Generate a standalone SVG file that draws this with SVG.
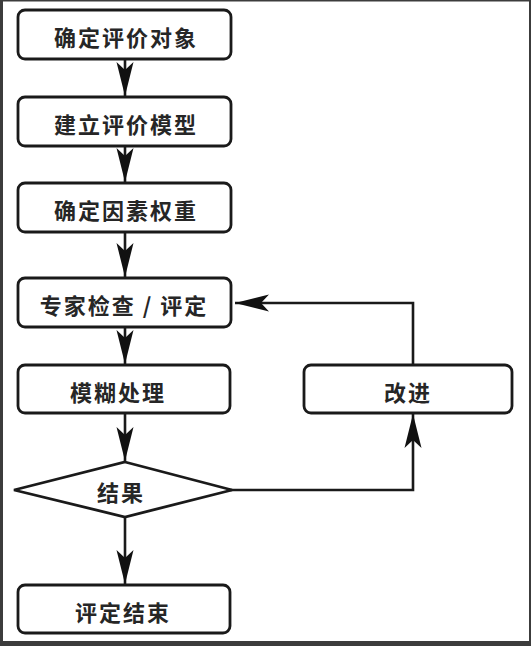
<svg xmlns="http://www.w3.org/2000/svg" width="531" height="646" viewBox="0 0 531 646">
<style>
.box{fill:#fff;stroke:#1a1a1a;stroke-width:2.8}
.lbl{font-family:"Noto Sans CJK SC","Liberation Sans",sans-serif;font-size:22px;font-weight:700;fill:#262626;text-anchor:middle;dominant-baseline:central;letter-spacing:2px}
.ln{fill:none;stroke:#1a1a1a;stroke-width:2.6}
</style>
<defs>
<marker id="ah" markerUnits="userSpaceOnUse" markerWidth="40" markerHeight="24" viewBox="-36 -12 38 24" refX="0" refY="0" orient="auto">
<path d="M0,0 L-34,-8.5 L-26,0 L-34,8.5 Z" fill="#111"/>
</marker>
</defs>
<rect x="0" y="0" width="531" height="646" fill="#fff"/>
<g id="frame" fill="#3c3c3c">
<rect x="0" y="0" width="3" height="646"/>
<rect x="0" y="0" width="531" height="1.5"/>
<rect x="529" y="0" width="2" height="646"/>
<rect x="0" y="641" width="531" height="5"/>
</g>
<g id="connectors">
<line class="ln" x1="125" y1="59" x2="125" y2="96" marker-end="url(#ah)"/>
<line class="ln" x1="125" y1="146" x2="125" y2="182" marker-end="url(#ah)"/>
<line class="ln" x1="125" y1="232" x2="125" y2="277" marker-end="url(#ah)"/>
<line class="ln" x1="125" y1="327" x2="125" y2="364" marker-end="url(#ah)"/>
<line class="ln" x1="125" y1="413" x2="125" y2="461" marker-end="url(#ah)"/>
<line class="ln" x1="125" y1="517" x2="125" y2="584" marker-end="url(#ah)"/>
<polyline class="ln" points="230,490 413,490 413,414" marker-end="url(#ah)"/>
<polyline class="ln" points="413,365 413,303 235,303" marker-end="url(#ah)"/>
</g>
<g id="n1"><rect class="box" x="18" y="10" width="213" height="49" rx="7"/><text class="lbl" x="126" y="36">确定评价对象</text></g>
<g id="n2"><rect class="box" x="18" y="97" width="213" height="49" rx="7"/><text class="lbl" x="126" y="123">建立评价模型</text></g>
<g id="n3"><rect class="box" x="18" y="183" width="213" height="49" rx="7"/><text class="lbl" x="126" y="209">确定因素权重</text></g>
<g id="n4"><rect class="box" x="18" y="278" width="213" height="49" rx="7"/><text class="lbl" x="124" y="304">专家检查 / 评定</text></g>
<g id="n5"><rect class="box" x="18" y="365" width="212" height="48" rx="7"/><text class="lbl" x="118" y="391">模糊处理</text></g>
<g id="n6"><polygon class="box" points="125,462 232,490 125,517 14,490"/><text class="lbl" x="121" y="491">结果</text></g>
<g id="n7"><rect class="box" x="18" y="585" width="212" height="48" rx="7"/><text class="lbl" x="123" y="611">评定结束</text></g>
<g id="n8"><rect class="box" x="304" y="365" width="208" height="48" rx="7"/><text class="lbl" x="408" y="391">改进</text></g>
</svg>
